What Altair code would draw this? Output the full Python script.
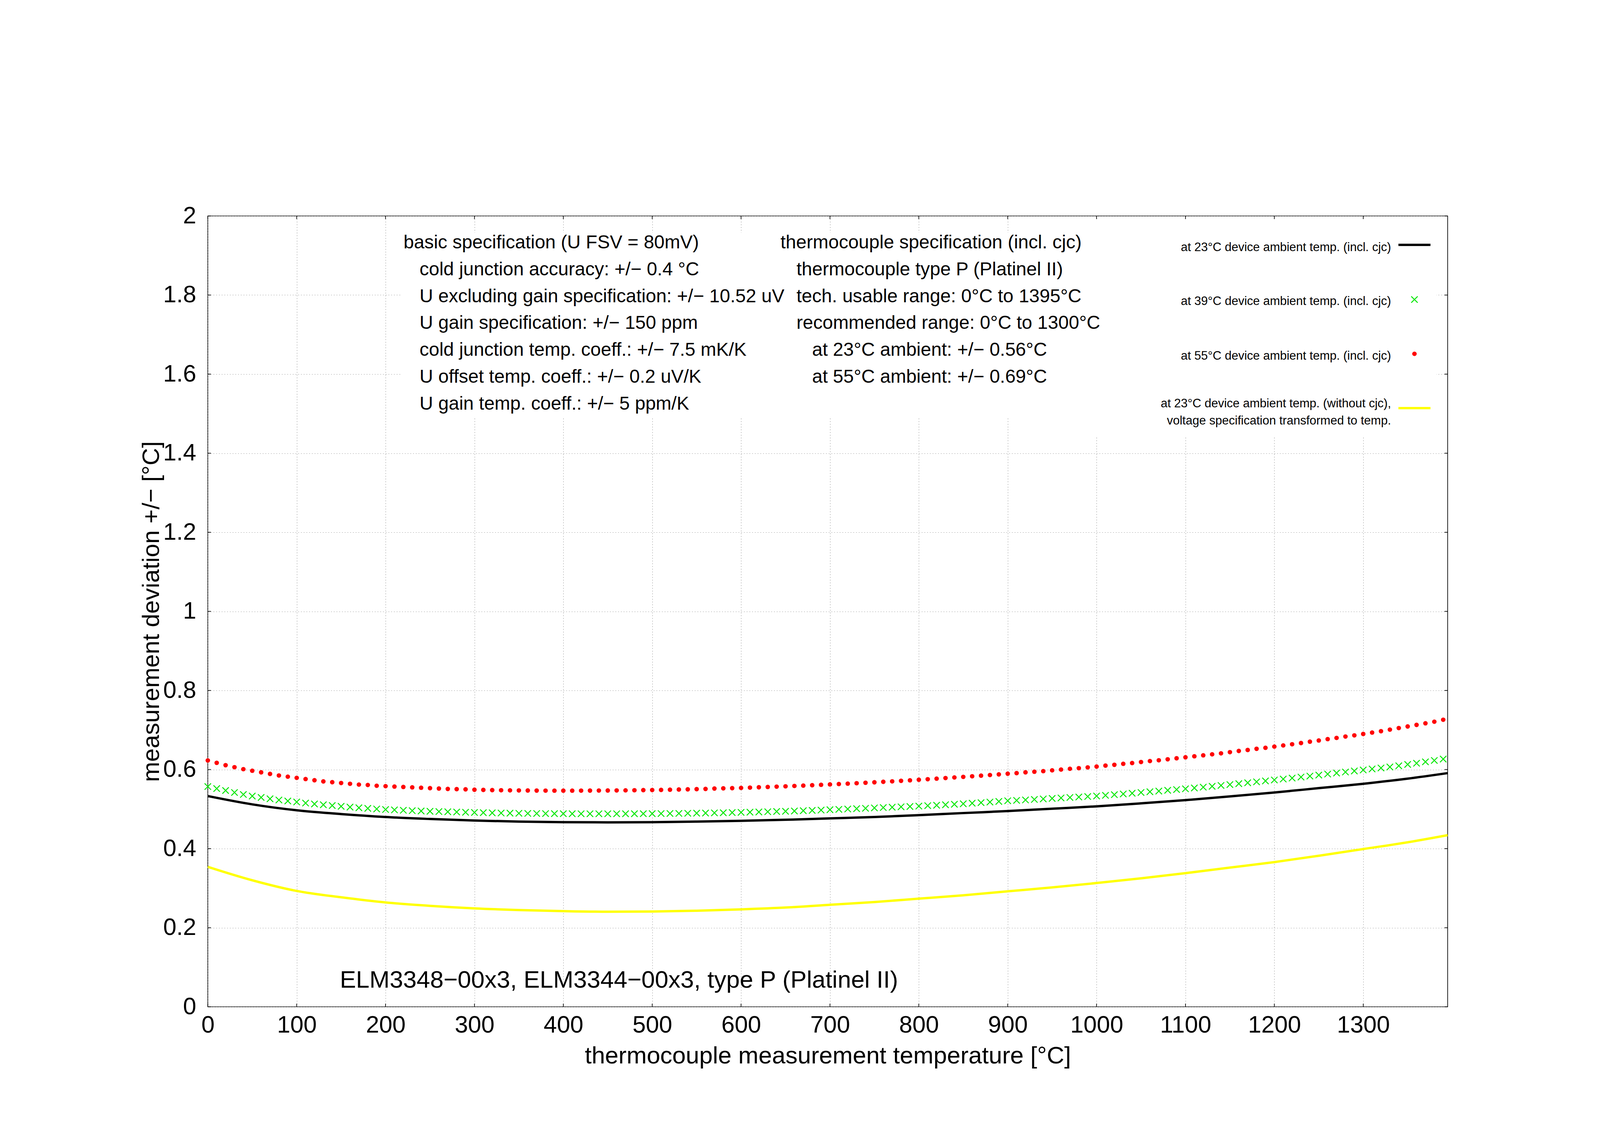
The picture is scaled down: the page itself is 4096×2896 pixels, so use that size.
import altair as alt
import pandas as pd

# ---------------- data ----------------
x_ticks = [0, 100, 200, 300, 400, 500, 600, 700, 800, 900, 1000, 1100, 1200, 1300]
y_ticks = [0, 0.2, 0.4, 0.6, 0.8, 1.0, 1.2, 1.4, 1.6, 1.8, 2.0]

line_temps = [0, 50, 100, 150, 200, 250, 300, 350, 400, 450, 500, 550, 600, 650, 700,
              750, 800, 850, 900, 950, 1000, 1050, 1100, 1150, 1200, 1250, 1300, 1350, 1395]
black_23 = [0.533, 0.512, 0.497, 0.4874, 0.480, 0.475, 0.471, 0.4685, 0.467, 0.4665,
            0.467, 0.4685, 0.4704, 0.473, 0.4765, 0.480, 0.4846, 0.490, 0.495, 0.501,
            0.507, 0.5145, 0.5227, 0.532, 0.542, 0.553, 0.564, 0.577, 0.591]
yellow_23 = [0.354, 0.320, 0.293, 0.277, 0.264, 0.2554, 0.249, 0.2448, 0.242, 0.2405,
             0.241, 0.243, 0.2464, 0.251, 0.258, 0.265, 0.2735, 0.282, 0.292, 0.302,
             0.313, 0.325, 0.338, 0.352, 0.366, 0.382, 0.399, 0.416, 0.434]

point_temps = list(range(0, 1400, 10))
red_55 = [
    0.623, 0.617, 0.611, 0.606, 0.601, 0.597, 0.593, 0.589, 0.585, 0.582,
    0.579, 0.576, 0.573, 0.570, 0.568, 0.566, 0.564, 0.562, 0.561, 0.559,
    0.558, 0.557, 0.556, 0.555, 0.554, 0.553, 0.552, 0.551, 0.5505, 0.550,
    0.549, 0.5485, 0.548, 0.5477, 0.5474, 0.5472, 0.547, 0.5468, 0.5467, 0.5466,
    0.5466, 0.5466, 0.5467, 0.5468, 0.5469, 0.547, 0.5472, 0.5474, 0.5477, 0.548,
    0.5482, 0.5485, 0.549, 0.5495, 0.550, 0.5505, 0.551, 0.552, 0.5525, 0.553,
    0.5536, 0.5544, 0.5552, 0.556, 0.5568, 0.5576, 0.5585, 0.5594, 0.5604, 0.5614,
    0.5624, 0.5634, 0.5644, 0.5655, 0.5666, 0.5678, 0.569, 0.5702, 0.5715, 0.5728,
    0.5742, 0.5756, 0.577, 0.5785, 0.580, 0.5815, 0.583, 0.5846, 0.5862, 0.5878,
    0.5895, 0.591, 0.593, 0.5945, 0.596, 0.598, 0.600, 0.602, 0.6035, 0.6055,
    0.6075, 0.610, 0.612, 0.6145, 0.6165, 0.619, 0.6215, 0.6235, 0.626, 0.6285,
    0.631, 0.6335, 0.636, 0.6385, 0.641, 0.644, 0.647, 0.6495, 0.6525, 0.655,
    0.658, 0.661, 0.664, 0.667, 0.6705, 0.6735, 0.677, 0.680, 0.6835, 0.6865,
    0.690, 0.6935, 0.697, 0.701, 0.705, 0.709, 0.713, 0.717, 0.721, 0.726,
]
green_39 = [
    0.557, 0.552, 0.547, 0.542, 0.537, 0.533, 0.5295, 0.526, 0.523, 0.5205,
    0.518, 0.5153, 0.513, 0.511, 0.509, 0.507, 0.505, 0.5033, 0.5018, 0.5003,
    0.499, 0.498, 0.497, 0.496, 0.4952, 0.4945, 0.4938, 0.4932, 0.4926, 0.492,
    0.4915, 0.491, 0.4905, 0.4901, 0.4897, 0.4894, 0.4891, 0.4889, 0.4887, 0.4885,
    0.4884, 0.4883, 0.4882, 0.4882, 0.4882, 0.4882, 0.4882, 0.4883, 0.4883, 0.4884,
    0.4885, 0.4887, 0.4889, 0.4891, 0.4894, 0.4897, 0.490, 0.4904, 0.4908, 0.4912,
    0.4917, 0.4922, 0.4927, 0.4933, 0.4939, 0.4945, 0.4952, 0.4959, 0.4967, 0.4975,
    0.4984, 0.4993, 0.5002, 0.5011, 0.502, 0.503, 0.5039, 0.5048, 0.5057, 0.5066,
    0.5076, 0.5087, 0.5098, 0.511, 0.5122, 0.5135, 0.5149, 0.5163, 0.5178, 0.5194,
    0.521, 0.522, 0.5232, 0.5244, 0.5257, 0.527, 0.5282, 0.5294, 0.5306, 0.5318,
    0.5331, 0.5348, 0.5365, 0.5383, 0.5401, 0.542, 0.5438, 0.5456, 0.5475, 0.5494,
    0.5513, 0.5534, 0.5555, 0.5576, 0.5598, 0.562, 0.5643, 0.5666, 0.5689, 0.5712,
    0.5736, 0.576, 0.5785, 0.581, 0.5835, 0.586, 0.5886, 0.5912, 0.5938, 0.5964,
    0.599, 0.6015, 0.604, 0.6065, 0.6095, 0.613, 0.616, 0.6195, 0.623, 0.6265,
]

spec_title = "basic specification (U FSV = 80mV)"
spec_lines = [
    "cold junction accuracy: +/\u2212 0.4 \u00b0C",
    "U excluding gain specification: +/\u2212 10.52 uV",
    "U gain specification: +/\u2212 150 ppm",
    "cold junction temp. coeff.: +/\u2212 7.5 mK/K",
    "U offset temp. coeff.: +/\u2212 0.2 uV/K",
    "U gain temp. coeff.: +/\u2212 5 ppm/K",
]
tc_title = "thermocouple specification (incl. cjc)"
tc_lines = [
    "thermocouple type P (Platinel II)",
    "tech. usable range: 0\u00b0C to 1395\u00b0C",
    "recommended range: 0\u00b0C to 1300\u00b0C",
]
tc_ambient = [
    "at 23\u00b0C ambient: +/\u2212 0.56\u00b0C",
    "at 55\u00b0C ambient: +/\u2212 0.69\u00b0C",
]
legend_labels = [
    "at 23\u00b0C device ambient temp. (incl. cjc)",
    "at 39\u00b0C device ambient temp. (incl. cjc)",
    "at 55\u00b0C device ambient temp. (incl. cjc)",
    "at 23\u00b0C device ambient temp. (without cjc),\nvoltage specification transformed to temp.",
]
device_label = "ELM3348\u221200x3, ELM3344\u221200x3, type P (Platinel II)"
x_title = "thermocouple measurement temperature [\u00b0C]"
y_title = "measurement deviation +/\u2212 [\u00b0C]"

# ---------------- layout ----------------
W, H = 3174, 2025
FONT = "Liberation Sans"
TICK = 61
BIG = 62
MID = 48
SMALL = 31

lines_df = pd.DataFrame({"t": line_temps, "black": black_23, "yellow": yellow_23})
pts_df = pd.DataFrame({"t": point_temps, "red": red_55, "green": green_39})
xt_df = pd.DataFrame({"t": x_ticks})
yt_df = pd.DataFrame({"val": y_ticks})

xscale = alt.Scale(domain=[0, 1395], nice=False, zero=False)
yscale = alt.Scale(domain=[0, 2], nice=False, zero=False)

xaxis = alt.Axis(
    values=x_ticks, format="d", title=x_title, grid=True, gridColor="#8a8a8a",
    gridDash=[2, 5], gridWidth=1.2, domain=False, ticks=False,
    labelFont=FONT, labelFontSize=TICK, labelColor="black", labelPadding=17,
    labelFlush=False, labelOverlap=False,
    titleFont=FONT, titleFontSize=BIG, titleFontWeight="normal", titleColor="black",
    titleX=W / 2, titleY=144, titleAlign="center", titleBaseline="alphabetic",
)
yaxis = alt.Axis(
    values=y_ticks, format="~g", title=y_title, grid=True, gridColor="#8a8a8a",
    gridDash=[2, 5], gridWidth=1.2, domain=False, ticks=False,
    labelFont=FONT, labelFontSize=TICK, labelColor="black", labelPadding=30,
    labelFlush=False, labelOverlap=False,
    titleFont=FONT, titleFontSize=BIG, titleFontWeight="normal", titleColor="black",
    titleX=-126, titleY=H / 2, titleAngle=270, titleAlign="center",
    titleBaseline="alphabetic",
)


def X(field="t"):
    return alt.X(f"{field}:Q", scale=xscale, axis=xaxis)


def Y(field):
    return alt.Y(f"{field}:Q", scale=yscale, axis=yaxis)


one = alt.Data(values=[{}])

# white boxes behind the annotation text and the key
text_box = alt.Chart(one).mark_rect(color="white").encode(
    x=alt.value(496), x2=alt.value(2305), y=alt.value(43), y2=alt.value(515))
key_box = alt.Chart(one).mark_rect(color="white").encode(
    x=alt.value(2260), x2=alt.value(3145), y=alt.value(2), y2=alt.value(565))

# inward ticks (mirrored)
tick_style = dict(color="black", strokeWidth=1.7)
xt_bottom = alt.Chart(xt_df).mark_rule(**tick_style).encode(
    x=X(), y=alt.value(H), y2=alt.value(H - 8))
xt_top = alt.Chart(xt_df).mark_rule(**tick_style).encode(
    x=X(), y=alt.value(0), y2=alt.value(8))
yt_left = alt.Chart(yt_df).mark_rule(**tick_style).encode(
    y=Y("val"), x=alt.value(0), x2=alt.value(8))
yt_right = alt.Chart(yt_df).mark_rule(**tick_style).encode(
    y=Y("val"), x=alt.value(W - 8), x2=alt.value(W))

yellow_line = alt.Chart(lines_df).mark_line(
    color="#ffff00", strokeWidth=6, interpolate="monotone").encode(x=X(), y=Y("yellow"))
black_line = alt.Chart(lines_df).mark_line(
    color="black", strokeWidth=6, interpolate="monotone").encode(x=X(), y=Y("black"))

XPATH = "M-1,-1L1,1M-1,1L1,-1"
green_pts = alt.Chart(pts_df).mark_point(
    shape=XPATH, size=270, filled=False, color="#00e600", strokeWidth=2.4, opacity=1
).encode(x=X(), y=Y("green"))
red_pts = alt.Chart(pts_df).mark_point(
    shape="circle", size=134, filled=True, color="#ff0000", opacity=1
).encode(x=X(), y=Y("red"))

# annotation text blocks
def txt(lines, x, y, size, align="left", lh=68.7):
    return alt.Chart(one).mark_text(
        font=FONT, fontSize=size, color="black", align=align, baseline="alphabetic",
        lineBreak="\n", lineHeight=lh,
    ).encode(x=alt.value(x), y=alt.value(y), text=alt.value("\n".join(lines)))


t_spec_title = txt([spec_title], 501, 83, MID)
t_spec = txt(spec_lines, 542, 152, MID)
t_tc_title = txt([tc_title], 1466, 83, MID)
t_tc = txt(tc_lines, 1507, 152, MID)
t_tc_amb = txt(tc_ambient, 1547, 358, MID)
t_device = txt([device_label], 338, 1976, BIG)

# key (labels to the left, samples to the right)
k1 = txt([legend_labels[0]], 3029, 90, SMALL, align="right")
k2 = txt([legend_labels[1]], 3029, 228, SMALL, align="right")
k3 = txt([legend_labels[2]], 3029, 368, SMALL, align="right")
k4 = txt([legend_labels[3]], 3029, 490, SMALL, align="right", lh=44)

ks1 = alt.Chart(one).mark_rule(color="black", strokeWidth=6).encode(
    x=alt.value(3048), x2=alt.value(3130), y=alt.value(74))
ks2 = alt.Chart(one).mark_point(
    shape=XPATH, size=270, filled=False, color="#00e600", strokeWidth=2.4, opacity=1
).encode(x=alt.value(3089), y=alt.value(214))
ks3 = alt.Chart(one).mark_point(
    shape="circle", size=134, filled=True, color="#ff0000", opacity=1
).encode(x=alt.value(3089), y=alt.value(353))
ks4 = alt.Chart(one).mark_rule(color="#ffff00", strokeWidth=6).encode(
    x=alt.value(3048), x2=alt.value(3130), y=alt.value(492))

chart = alt.layer(
    text_box, key_box,
    xt_bottom, xt_top, yt_left, yt_right,
    yellow_line, black_line, green_pts, red_pts,
    t_spec_title, t_spec, t_tc_title, t_tc, t_tc_amb, t_device,
    k1, k2, k3, k4, ks1, ks2, ks3, ks4,
).properties(
    width=W, height=H,
    autosize=alt.AutoSizeParams(type="none"),
    padding={"left": 524, "top": 545, "right": 380, "bottom": 300},
    background="white",
).configure_view(
    stroke="black", strokeWidth=1.7
)

chart.save("out.html", embed_options={"renderer": "svg", "actions": False})
